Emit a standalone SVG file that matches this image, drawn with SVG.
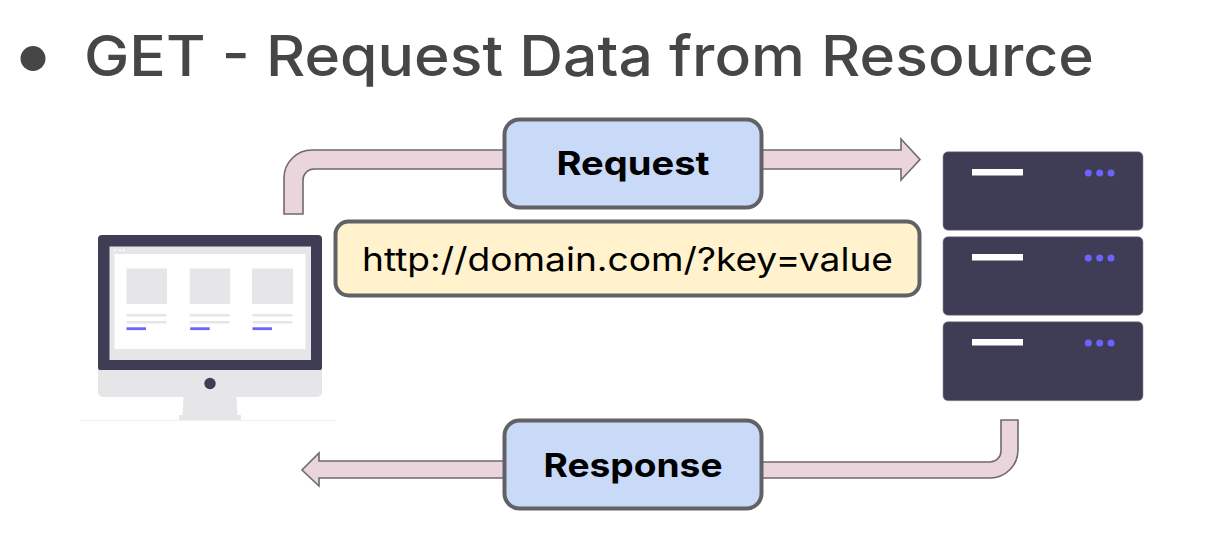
<svg xmlns="http://www.w3.org/2000/svg" width="1208" height="540" viewBox="0 0 1208 540">
<style>
text{font-family:"Inter","Open Sans","Liberation Sans",sans-serif}
.title{font-size:56px;fill:#464646;font-weight:500}
.label{font-size:33px;font-weight:700;fill:#000;text-anchor:middle}
.url{font-size:33px;font-weight:400;fill:#000;text-anchor:middle}
.conn{fill:#ead5dc;stroke:#6e6a6e;stroke-width:1.6;stroke-linejoin:miter}
.box{stroke:#626166;stroke-width:4}
.dark{fill:#3f3d56}
.grey{fill:#e6e6e8}
.rack{fill:#3f3d56;stroke:#8f8d9c;stroke-width:.6}
.bar{fill:#fff}
.dot{fill:#6c63ff}
.blue{fill:#6c63ff}
</style>
<rect width="1208" height="540" fill="#fff"/>
<g id="title">
<circle cx="33" cy="58.500" r="12.500" fill="#464646"/>
<text class="title" x="84" y="76" textLength="1010" lengthAdjust="spacingAndGlyphs">GET - Request Data from Resource</text>
</g>
<g id="connectors">
<path class="conn" d="M284 214V178A28 28 0 0 1 312 150H510V169H314A11 11 0 0 0 303 180V214Z"/>
<path class="conn" d="M758 150H901V139L920 159.500L901 180V169H758Z"/>
<path class="conn" d="M1001 420H1018V450A28 28 0 0 1 990 478H755V462H990A11 11 0 0 0 1001 451Z"/>
<path class="conn" d="M510 461H319V453L302 470L319 486V478H510Z"/>
</g>
<g id="client">
<rect class="dark" x="98" y="235" width="224" height="136" rx="4"/>
<path class="grey" d="M98 370H322V391Q322 397 316 397H104Q98 397 98 391Z"/>
<rect class="grey" x="109.500" y="246.500" width="201.500" height="113.500"/>
<rect x="114.500" y="254" width="191" height="95" fill="#fff"/>
<circle cx="115" cy="250.300" r="1" fill="#fff"/><circle cx="120" cy="250.300" r="1" fill="#fff"/><circle cx="124" cy="250.300" r="1" fill="#fff"/>
<rect class="grey" x="126.500" y="268.500" width="40.500" height="35.500"/>
<rect class="grey" x="189.700" y="268.500" width="40.500" height="35.500"/>
<rect class="grey" x="252" y="268.500" width="41" height="35.500"/>
<rect class="grey" x="126.500" y="314" width="40" height="2.500"/>
<rect class="grey" x="189.700" y="314" width="40" height="2.500"/>
<rect class="grey" x="252.500" y="314" width="40" height="2.500"/>
<rect class="grey" x="126.500" y="321" width="40" height="2.500"/>
<rect class="grey" x="189.700" y="321" width="40" height="2.500"/>
<rect class="grey" x="252.500" y="321" width="40" height="2.500"/>
<rect class="blue" x="126.500" y="327.300" width="19.500" height="2.800"/>
<rect class="blue" x="190.200" y="327.300" width="19.500" height="2.800"/>
<rect class="blue" x="252.500" y="327.300" width="19.500" height="2.800"/>
<circle class="dark" cx="210" cy="383.500" r="5.700"/>
<path class="grey" d="M183.500 397H236.500L237.500 415H241V420H179V415H182.500Z"/>
<rect x="80" y="420" width="256" height="1" fill="#eeeeef"/>
</g>
<g id="server">
<rect class="rack" x="943" y="151.700" width="200" height="78.600" rx="5"/>
<rect class="rack" x="943" y="236.700" width="200" height="78.600" rx="5"/>
<rect class="rack" x="943" y="321.700" width="200" height="79" rx="5"/>
<rect class="bar" x="972" y="169" width="51" height="6.500"/>
<rect class="bar" x="972" y="254" width="51" height="6.500"/>
<rect class="bar" x="972" y="339" width="51" height="6.500"/>
<circle class="dot" cx="1088.300" cy="173" r="3.500"/><circle class="dot" cx="1099.700" cy="173" r="3.500"/><circle class="dot" cx="1111" cy="173" r="3.500"/>
<circle class="dot" cx="1088.300" cy="258" r="3.500"/><circle class="dot" cx="1099.700" cy="258" r="3.500"/><circle class="dot" cx="1111" cy="258" r="3.500"/>
<circle class="dot" cx="1088.300" cy="343" r="3.500"/><circle class="dot" cx="1099.700" cy="343" r="3.500"/><circle class="dot" cx="1111" cy="343" r="3.500"/>
</g>
<g id="request">
<rect class="box" x="504.500" y="119.500" width="257" height="88" rx="15" fill="#c9daf8"/>
<text class="label" x="633" y="175" textLength="153" lengthAdjust="spacingAndGlyphs">Request</text>
</g>
<g id="url">
<rect class="box" x="335.500" y="221.500" width="584" height="74" rx="13" fill="#fff2cc"/>
<text class="url" x="627.500" y="271" textLength="531" lengthAdjust="spacingAndGlyphs">http://domain.com/?key=value</text>
</g>
<g id="response">
<rect class="box" x="504.500" y="420.500" width="257" height="88" rx="15" fill="#c9daf8"/>
<text class="label" x="633" y="477" textLength="179" lengthAdjust="spacingAndGlyphs">Response</text>
</g>
</svg>
